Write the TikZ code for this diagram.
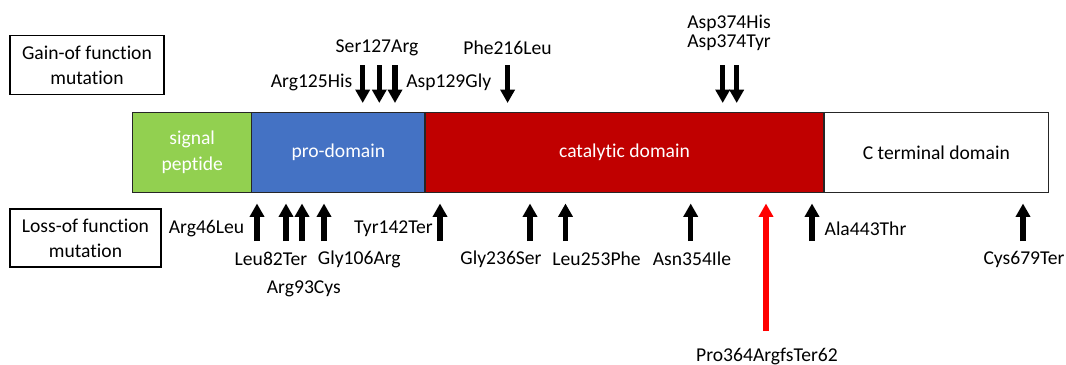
\documentclass[tikz,border=0pt]{standalone}
\usepackage{fontspec}
\setmainfont{Carlito}[Ligatures={NoCommon}]
\usetikzlibrary{arrows.meta}
\definecolor{sigG}{RGB}{146,208,80}
\definecolor{proB}{RGB}{68,114,196}
\definecolor{catR}{RGB}{192,0,0}
\definecolor{arrR}{RGB}{255,0,0}
\begin{document}
\begin{tikzpicture}[x=0.75pt,y=-0.75pt,
  every node/.style={inner sep=0pt, font=\fontsize{14.7}{18.75}\selectfont},
  lbl/.style={anchor=center},
  legendbox/.style={draw=black, line width=0.9pt, align=center, minimum width=#1},
  dom/.style={draw=black!85, line width=0.8pt, minimum height=60pt, align=center},
  mut/.style={line width=4.1pt, -{Triangle[width=10.5pt,length=10pt]}},
]
\useasboundingbox (0,0) rectangle (1066,364);

% legend boxes
\node[legendbox=115.5pt, minimum height=43.7pt] (gain) at (87,65) {Gain-of function\\mutation};
\node[legendbox=113.25pt, minimum height=43.5pt] (loss) at (85.5,238) {Loss-of function\\mutation};

% domains
\node[dom, fill=sigG, text=white, minimum width=89.25pt] (sig) at (192.2,152.3) {signal\\[0.5pt]peptide};
\node[dom, fill=proB, text=white, minimum width=130pt] (pro) at (338.35,152.3) {pro-domain};
\node[dom, fill=catR, text=white, minimum width=299.25pt] (cat) at (624.5,152.3) {catalytic domain};
\node[dom, fill=white, text=black, minimum width=168.45pt] (cter) at (936.3,152.3) {C terminal domain};

% gain-of-function labels
\node[lbl] (s127) at (377,48) {Ser127Arg};
\node[lbl] (r125) at (311.5,82) {Arg125His};
\node[lbl] (d129) at (448.7,82) {Asp129Gly};
\node[lbl] (f216) at (507.5,48) {Phe216Leu};
\node[lbl] (d374h) at (729,23) {Asp374His};
\node[lbl] (d374y) at (729,43) {Asp374Tyr};

% gain-of-function arrows
\coordinate (g1s) at (362.7,65);  \coordinate (g1t) at (362.7,103);
\coordinate (g2s) at (379.3,65);  \coordinate (g2t) at (379.3,103);
\coordinate (g3s) at (395,65);    \coordinate (g3t) at (395,103);
\coordinate (g4s) at (507.6,65);  \coordinate (g4t) at (507.6,103);
\coordinate (g5s) at (722.7,65);  \coordinate (g5t) at (722.7,103);
\coordinate (g6s) at (736.7,65);  \coordinate (g6t) at (736.7,103);
\foreach \i in {1,...,6} {\draw[mut] (g\i s) -- (g\i t);}

% loss-of-function labels
\node[lbl] (r46) at (206.5,228.5) {Arg46Leu};
\node[lbl] (l82) at (271,259) {Leu82Ter};
\node[lbl] (r93) at (303.8,288.5) {Arg93Cys};
\node[lbl] (g106) at (359.3,259) {Gly106Arg};
\node[lbl] (y142) at (393.5,228.5) {Tyr142Ter};
\node[lbl] (g236) at (501,259) {Gly236Ser};
\node[lbl] (l253) at (596.6,259) {Leu253Phe};
\node[lbl] (n354) at (692,259) {Asn354Ile};
\node[lbl] (a443) at (865.5,228.5) {Ala443Thr};
\node[lbl] (c679) at (1024,259) {Cys679Ter};
\node[lbl] (p364) at (767,356) {Pro364ArgfsTer62};

% loss-of-function arrows
\foreach \n/\x in {1/257,2/286,3/302,4/324,5/440,6/530,7/565.5,8/690.7,9/812,10/1023} {
  \coordinate (b\n s) at (\x,241);
  \coordinate (b\n t) at (\x,203.5);
  \draw[mut] (b\n s) -- (b\n t);
}
\coordinate (rs) at (766,331);
\coordinate (rt) at (766,203.5);
\draw[mut, draw=arrR, fill=arrR] (rs) -- (rt);
\end{tikzpicture}
\end{document}
